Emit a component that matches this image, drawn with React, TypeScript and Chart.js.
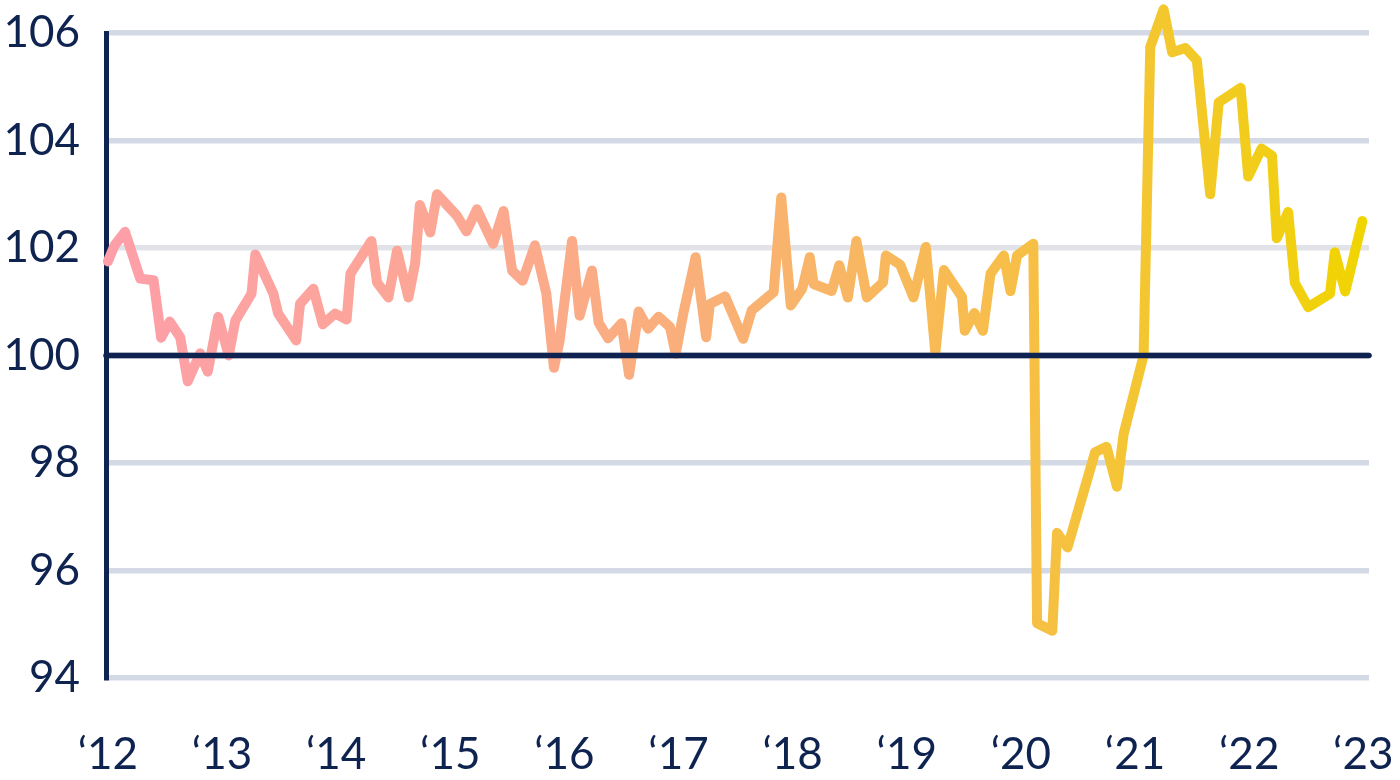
import { useEffect, useRef } from "react";
import { Chart, registerables } from "chart.js";

Chart.register(...registerables);

// Month offsets from Jan 2012 of each turning point of the line
const monthIndex = [
  0, 0.7, 1.8, 3.4, 4.8, 5.6, 6.5, 7.6, 8.4, 9.7, 10.5, 11.6, 12.7, 13.4, 15.1, 15.5,
  17.4, 17.9, 19.8, 20.2, 21.6, 22.6, 23.9, 25.1, 25.5, 27.7, 28.3, 29.5, 30.4, 31.6,
  32.3, 32.8, 33.9, 34.6, 36.7, 37.7, 38.8, 40.5, 41.6, 42.5, 43.6, 44.9, 46.1, 46.9,
  47.5, 48.8, 49.6, 50.9, 51.6, 52.6, 54.0, 54.8, 55.8, 56.8, 57.9, 59.1, 59.7, 60.5,
  61.8, 62.9, 63.3, 64.9, 66.8, 67.7, 70.0, 70.8, 71.8, 73.0, 73.8, 74.2, 76.1, 76.9,
  77.8, 78.7, 79.8, 81.5, 81.8, 83.3, 84.7, 86.0, 87.0, 87.9, 89.8, 90.1, 91.1, 92.0,
  92.8, 94.2, 94.9, 95.6, 97.3, 97.7, 99.3, 99.8, 100.9, 103.8, 105.0, 106.1, 106.8,
  108.9, 109.6, 111.0, 111.9, 113.3, 114.5, 115.9, 116.8, 119.1, 119.9, 121.3, 122.4,
  122.9, 124.1, 124.8, 126.2, 128.5, 129.0, 130.1, 131.9,
];

const indexValues = [
  101.75, 102.05, 102.3, 101.43, 101.4, 100.33, 100.63, 100.34, 99.52, 100.04, 99.7,
  100.72, 100.0, 100.65, 101.15, 101.88, 101.15, 100.78, 100.28, 100.96, 101.24, 100.58,
  100.78, 100.67, 101.52, 102.13, 101.36, 101.08, 101.95, 101.08, 101.71, 102.8, 102.29,
  103.0, 102.6, 102.31, 102.72, 102.08, 102.69, 101.58, 101.39, 102.05, 101.15, 99.77,
  100.28, 102.13, 100.74, 101.58, 100.61, 100.32, 100.6, 99.64, 100.82, 100.5, 100.72,
  100.53, 100.03, 100.78, 101.83, 100.34, 100.96, 101.1, 100.31, 100.84, 101.18, 102.94,
  100.93, 101.24, 101.83, 101.33, 101.2, 101.68, 101.08, 102.13, 101.08, 101.36, 101.86,
  101.69, 101.08, 102.02, 100.05, 101.59, 101.09, 100.46, 100.79, 100.46, 101.52, 101.86,
  101.2, 101.86, 102.08, 95.02, 94.88, 96.7, 96.43, 98.2, 98.3, 97.56, 98.54, 100.0,
  105.74, 106.44, 105.64, 105.72, 105.49, 103.0, 104.71, 104.98, 103.33, 103.85, 103.72,
  102.18, 102.67, 101.35, 100.9, 101.15, 101.92, 101.19, 102.5,
];

const yearTickMonths = [0, 12, 24, 36, 48, 60, 72, 84, 96, 108, 120, 132];
const yearLabels = [
  "\u201812", "\u201813", "\u201814", "\u201815", "\u201816", "\u201817",
  "\u201818", "\u201819", "\u201820", "\u201821", "\u201822", "\u201823",
];
const yTicks = [94, 96, 98, 100, 102, 104, 106];

const NAVY = "#0f2350";
const GRID = "#d3dae6";
const GRID_GREY = "#e1e3e8";

const zeroPadding = (s: any) => {
  s.paddingTop = 0;
  s.paddingBottom = 0;
  s.paddingLeft = 0;
  s.paddingRight = 0;
};

export default function App() {
  const ref = useRef<HTMLCanvasElement>(null);

  useEffect(() => {
    document.body.style.margin = "0";
    const canvas = ref.current;
    if (!canvas) return;

    const baseline = {
      id: "baseline",
      afterDatasetsDraw(chart: any) {
        const { ctx, chartArea, scales } = chart;
        const y = scales.y.getPixelForValue(100);
        ctx.save();
        ctx.strokeStyle = NAVY;
        ctx.lineWidth = 5.5;
        ctx.lineCap = "round";
        ctx.beginPath();
        ctx.moveTo(chartArea.left, y);
        ctx.lineTo(chartArea.right, y);
        ctx.stroke();
        ctx.restore();
      },
    };

    const chart = new Chart(canvas, {
      type: "line",
      data: {
        datasets: [
          {
            data: monthIndex.map((m, i) => ({ x: m, y: indexValues[i] })),
            borderColor: (context: any) => {
              const { chart: c } = context;
              const area = c.chartArea;
              if (!area) return "#f9b172";
              const g = c.ctx.createLinearGradient(area.left, 0, area.right, 0);
              g.addColorStop(0, "#fd9fa9");
              g.addColorStop(0.27, "#fca795");
              g.addColorStop(0.5, "#f9b174");
              g.addColorStop(0.7, "#f7bd4c");
              g.addColorStop(0.85, "#f3c82b");
              g.addColorStop(1, "#f0d500");
              return g;
            },
            borderWidth: 10,
            pointRadius: 0,
            tension: 0,
            borderJoinStyle: "round",
            borderCapStyle: "round",
            clip: false as any,
          },
        ],
      },
      options: {
        responsive: false,
        animation: false,
        devicePixelRatio: 1,
        layout: { padding: { top: 33, right: 31, left: 0, bottom: 0 } },
        plugins: { legend: { display: false }, tooltip: { enabled: false } },
        scales: {
          x: {
            type: "linear",
            min: -0.2,
            max: 132.6,
            afterBuildTicks: (s: any) => {
              s.ticks = yearTickMonths.map((v) => ({ value: v }));
            },
            afterFit: (s: any) => {
              s.height = 102;
              zeroPadding(s);
            },
            grid: { display: false, drawTicks: false },
            border: { display: false },
            ticks: {
              autoSkip: false,
              maxRotation: 0,
              padding: 50,
              color: NAVY,
              font: { family: "Lato", size: 44 },
              callback: (_v: any, i: number) => yearLabels[i],
            },
          },
          y: {
            min: 94,
            max: 106,
            afterBuildTicks: (s: any) => {
              s.ticks = yTicks.map((v) => ({ value: v }));
            },
            afterFit: (s: any) => {
              s.width = 106;
              zeroPadding(s);
            },
            grid: {
              drawTicks: false,
              color: (c: any) => (c.tick && (c.tick.value === 102 || c.tick.value === 100) ? GRID_GREY : GRID),
              lineWidth: (c: any) => (c.tick && c.tick.value === 100 ? 7 : 5.5),
            },
            border: { display: true, color: NAVY, width: 5 },
            ticks: {
              padding: 26,
              color: NAVY,
              font: { family: "Lato", size: 44 },
              callback: (v: any) => String(v),
            },
          },
        },
      },
      plugins: [baseline],
    });

    return () => chart.destroy();
  }, []);

  return <canvas ref={ref} width={1400} height={780} style={{ display: "block" }} />;
}
